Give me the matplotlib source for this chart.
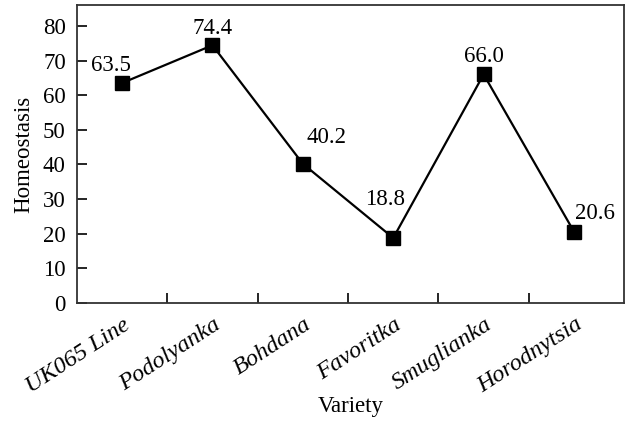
import matplotlib
matplotlib.use("Agg")
import matplotlib.pyplot as plt
import matplotlib.transforms as mtransforms
import numpy as np

varieties = ["UK065 Line", "Podolyanka", "Bohdana", "Favoritka", "Smuglianka", "Horodnytsia"]
homeostasis = [63.5, 74.4, 40.2, 18.8, 66.0, 20.6]
# where each value label sits relative to its marker (points)
label_offsets = [(-8, 9), (0, 8), (17, 15), (-6, 24), (0, 9), (15, 9)]

plt.rcParams['font.family'] = ['Liberation Serif', 'DejaVu Serif']
plt.rcParams['font.size'] = 16.5

fig = plt.figure(figsize=(6.25, 4.21), dpi=100)
ax = fig.add_axes([0.123, 0.28, 0.875, 0.708])

x = np.arange(len(varieties))
ax.plot(x, homeostasis, color='black', linewidth=1.6, marker='s', markersize=9.5)

for xi, val, off in zip(x, homeostasis, label_offsets):
    ax.annotate(f"{val:.1f}", (xi, val), xytext=off, textcoords='offset points',
                ha='center', va='baseline', fontsize=16.5)

ax.set_xlim(-0.5, 5.55)
ax.set_ylim(0, 86)
ax.set_yticks(np.arange(0, 81, 10))

# ticks sit between categories, labels sit at categories
ax.set_xticks(x[:-1] + 0.5)
ax.set_xticklabels([])
ax.set_xticks(x, minor=True)
ax.set_xticklabels(varieties, minor=True, rotation=33, ha='right', style='italic', fontsize=17.5)
ax.tick_params(axis='x', which='minor', length=0, pad=8)
ax.tick_params(axis='both', which='major', direction='in', length=7, width=1.2)
ax.tick_params(axis='y', pad=8)
shift = mtransforms.ScaledTranslation(12 / 100, 0, fig.dpi_scale_trans)
for lab in ax.get_xticklabels(minor=True):
    lab.set_transform(lab.get_transform() + shift)

for sp in ax.spines.values():
    sp.set_linewidth(1.3)
    sp.set_color('#333333')

ax.set_ylabel("Homeostasis", fontsize=16.5, labelpad=6)
ax.set_xlabel("Variety", fontsize=16.5, labelpad=-1)

fig.savefig("out.png", dpi=100)
